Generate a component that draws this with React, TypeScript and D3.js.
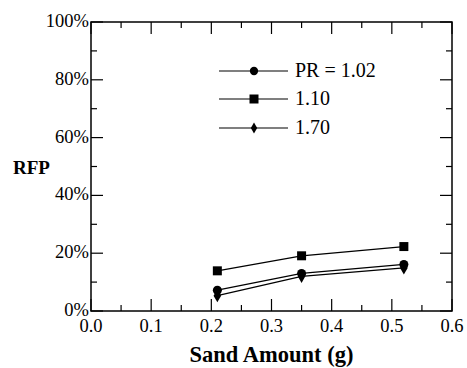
import React from "react";
import * as d3 from "d3";

const sand = [0.21, 0.35, 0.52];
const pr102 = [7.2, 13.0, 16.1];
const pr110 = [13.9, 19.1, 22.3];
const pr170 = [5.3, 12.0, 14.9];
const seriesNames = ["PR = 1.02", "1.10", "1.70"];
const xTicks = [0, 0.1, 0.2, 0.3, 0.4, 0.5, 0.6];
const yTicks = [0, 20, 40, 60, 80, 100];

const W = 467;
const H = 368;
const margin = { top: 22, right: 15, bottom: 57, left: 91 };
const FONT = '"Liberation Serif"';

const x = d3.scaleLinear().domain([0, 0.6]).range([margin.left, W - margin.right]);
const y = d3.scaleLinear().domain([0, 100]).range([H - margin.bottom, margin.top]);
const [x0, x1] = x.range();
const [y0, y1] = y.range();

const line = d3.line<number>().x((d, i) => x(sand[i])).y(d => y(d));
const series = [pr102, pr110, pr170];
const symbols = [d3.symbolCircle, d3.symbolSquare, d3.symbolDiamond];
const sizes = [64, 81, 50];
const legendSizes = [54, 81, 35];

export default function App() {
  const xMinor = d3.range(0, 0.6001, 0.05);
  const yMinor = d3.range(0, 100.01, 10);
  const lx0 = 219, lx1 = 288, lm = 254, ltx = 295;
  const ly = [71, 99, 128];
  const tickStyle = { stroke: "#000", strokeWidth: 1.2 };

  return (
    <svg width={W} height={H} style={{ position: "absolute", left: 0, top: 0, background: "#fff" }}>
      {xMinor.map((v, i) => {
        const len = i % 2 === 0 ? 12 : 6;
        return (
          <g key={"xt" + i}>
            <line x1={x(v)} x2={x(v)} y1={y0} y2={y0 - len} {...tickStyle} />
            <line x1={x(v)} x2={x(v)} y1={y1} y2={y1 + len} {...tickStyle} />
          </g>
        );
      })}
      {yMinor.map((v, i) => {
        const len = i % 2 === 0 ? 12 : 6;
        return (
          <g key={"yt" + i}>
            <line x1={x0} x2={x0 + len} y1={y(v)} y2={y(v)} {...tickStyle} />
            <line x1={x1} x2={x1 - len} y1={y(v)} y2={y(v)} {...tickStyle} />
          </g>
        );
      })}
      <rect x={x0} y={y1} width={x1 - x0} height={y0 - y1} fill="none" stroke="#000" strokeWidth={1.5} />

      {xTicks.map(d => (
        <text key={"xl" + d} x={x(d)} y={y0 + 21} textAnchor="middle" fontSize={18.5} style={{ fontFamily: FONT }}>
          {d.toFixed(1)}
        </text>
      ))}
      {yTicks.map(d => (
        <text key={"yl" + d} x={x0 - 2} y={y(d) + 5} textAnchor="end" fontSize={18.5} style={{ fontFamily: FONT }}>
          {d + "%"}
        </text>
      ))}
      <text x={(x0 + x1) / 2} y={362} textAnchor="middle" fontSize={22.5} fontWeight="bold" style={{ fontFamily: FONT }}>
        Sand Amount (g)
      </text>
      <text x={13} y={174} fontSize={19} fontWeight="bold" style={{ fontFamily: FONT }}>RFP</text>

      {series.map((vals, k) => (
        <path key={"l" + k} d={line(vals) || ""} fill="none" stroke="#000" strokeWidth={1.2} />
      ))}
      {series.map((vals, k) =>
        vals.map((v, i) => (
          <path key={"m" + k + "-" + i} d={d3.symbol(symbols[k], sizes[k])() || ""} fill="#000"
            transform={`translate(${x(sand[i])},${y(v)})`} />
        ))
      )}

      {seriesNames.map((name, k) => (
        <g key={"lg" + k}>
          <line x1={lx0} x2={lx1} y1={ly[k]} y2={ly[k]} stroke="#000" strokeWidth={1.2} />
          <path d={d3.symbol(symbols[k], legendSizes[k])() || ""} fill="#000" transform={`translate(${lm},${ly[k]})`} />
          <text x={ltx} y={ly[k] + 6} fontSize={20} style={{ fontFamily: FONT }}>{name}</text>
        </g>
      ))}
    </svg>
  );
}
